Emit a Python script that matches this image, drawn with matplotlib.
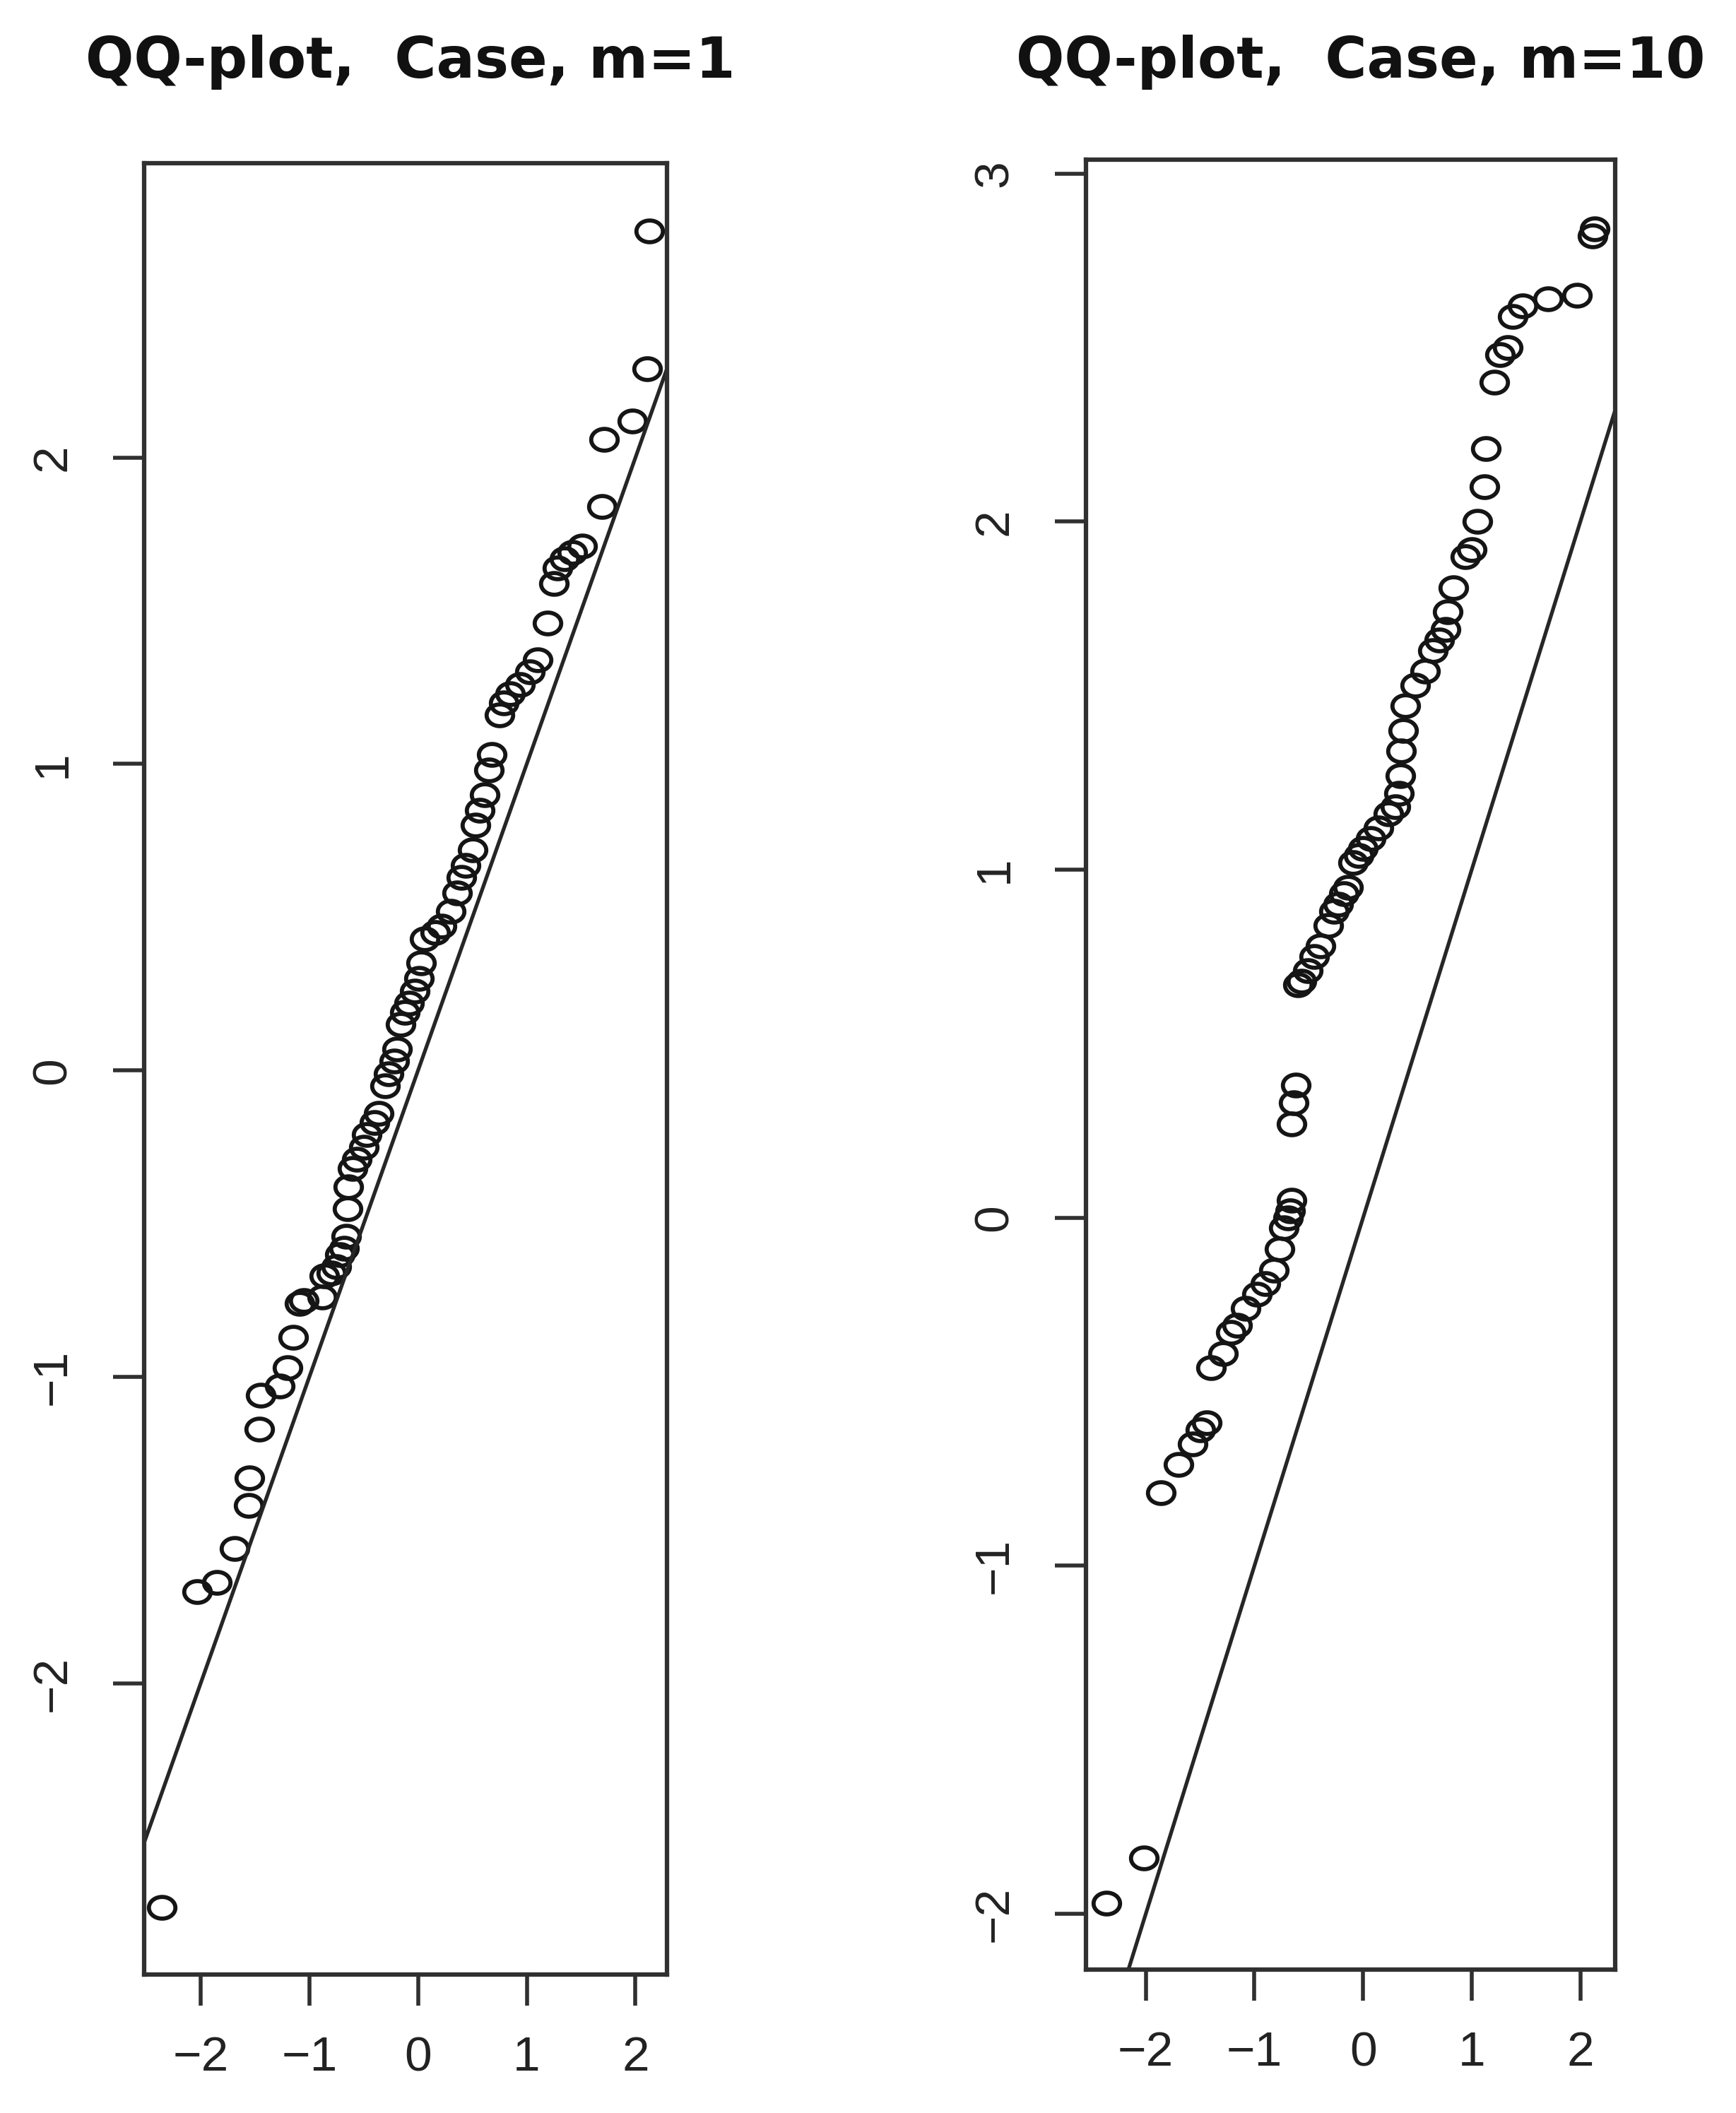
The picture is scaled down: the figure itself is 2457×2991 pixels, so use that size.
import numpy as np
import matplotlib
matplotlib.use("Agg")
import matplotlib.pyplot as plt
from matplotlib.path import Path

plt.rcParams['font.family'] = ['Liberation Sans', 'DejaVu Sans']

# QQ data, left panel (m=1): theoretical quantile, sample quantile
x_m1 = [-2.36, -2.03, -1.85, -1.69, -1.56, -1.55, -1.46, -1.45, -1.27, -1.20,
        -1.15, -1.09, -1.05, -0.88, -0.86, -0.80, -0.75, -0.72, -0.68, -0.66,
        -0.65, -0.64, -0.60, -0.56, -0.50, -0.47, -0.40, -0.36, -0.30, -0.27,
        -0.22, -0.19, -0.16, -0.12, -0.08, -0.03, 0.01, 0.03, 0.06, 0.16,
        0.22, 0.30, 0.36, 0.40, 0.44, 0.50, 0.53, 0.57, 0.61, 0.65,
        0.68, 0.75, 0.79, 0.85, 0.94, 1.03, 1.10, 1.19, 1.25, 1.28,
        1.35, 1.42, 1.51, 1.69, 1.71, 1.97, 2.11, 2.13]
y_m1 = [-2.73, -1.70, -1.67, -1.56, -1.42, -1.33, -1.17, -1.06, -1.03, -0.97,
        -0.87, -0.76, -0.75, -0.74, -0.67, -0.66, -0.64, -0.60, -0.58, -0.54,
        -0.45, -0.38, -0.32, -0.29, -0.25, -0.21, -0.17, -0.14, -0.05, -0.01,
        0.03, 0.07, 0.15, 0.19, 0.22, 0.26, 0.30, 0.35, 0.43, 0.45,
        0.47, 0.52, 0.58, 0.63, 0.67, 0.72, 0.80, 0.85, 0.90, 0.98,
        1.03, 1.16, 1.20, 1.23, 1.26, 1.30, 1.34, 1.46, 1.59, 1.64,
        1.67, 1.69, 1.71, 1.84, 2.06, 2.12, 2.29, 2.74]

# right panel (m=10)
x_m10 = [-2.36, -2.02, -1.86, -1.70, -1.57, -1.50, -1.44, -1.40, -1.29, -1.22,
         -1.16, -1.08, -0.98, -0.90, -0.82, -0.77, -0.73, -0.69, -0.67, -0.66,
         -0.66, -0.64, -0.62, -0.60, -0.57, -0.51, -0.45, -0.39, -0.32, -0.27,
         -0.23, -0.18, -0.14, -0.09, -0.04, 0.00, 0.07, 0.14, 0.23, 0.30,
         0.33, 0.34, 0.35, 0.37, 0.39, 0.48, 0.57, 0.64, 0.70, 0.76,
         0.78, 0.83, 0.94, 1.00, 1.05, 1.12, 1.13, 1.21, 1.26, 1.33,
         1.38, 1.47, 1.70, 1.97, 2.11, 2.13]
y_m10 = [-1.97, -1.84, -0.79, -0.71, -0.65, -0.61, -0.59, -0.43, -0.39, -0.33,
         -0.31, -0.26, -0.22, -0.19, -0.15, -0.09, -0.03, 0.00, 0.02, 0.05,
         0.27, 0.33, 0.38, 0.67, 0.68, 0.71, 0.75, 0.78, 0.84, 0.88,
         0.90, 0.93, 0.95, 1.02, 1.04, 1.06, 1.09, 1.12, 1.16, 1.18,
         1.22, 1.27, 1.34, 1.40, 1.47, 1.53, 1.57, 1.63, 1.66, 1.69,
         1.74, 1.81, 1.90, 1.92, 2.00, 2.10, 2.21, 2.40, 2.48, 2.50,
         2.59, 2.62, 2.64, 2.65, 2.82, 2.84]

titles = ['QQ-plot,  Case, m=1', 'QQ-plot,  Case, m=10']
x_ticks = [-2, -1, 0, 1, 2]
y_ticks_m1 = [-2, -1, 0, 1, 2]
y_ticks_m10 = [-2, -1, 0, 1, 2, 3]

# the source image is a bit stretched sideways, so the circles are slightly oval
t = np.linspace(0, 2 * np.pi, 60)
oval = Path(np.column_stack([1.22 * np.cos(t), np.sin(t)]), closed=True)

fig = plt.figure(figsize=(24.57, 29.91), dpi=100)
ax1 = fig.add_axes([0.0830, 0.0655, 0.3012, 0.8572])
ax2 = fig.add_axes([0.6256, 0.0679, 0.3048, 0.8566])

panels = [
    (ax1, x_m1, y_m1, y_ticks_m1, (-2.52, 2.29), (-2.95, 2.96), 0.2365),
    (ax2, x_m10, y_m10, y_ticks_m10, (-2.55, 2.32), (-2.16, 3.04), 0.7838),
]

for (ax, xs, ys, yt, xl, yl, tx), title in zip(panels, titles):
    ax.plot(xs, ys, linestyle='none', marker=oval, ms=27, mfc='none',
            mec='#151515', mew=4.2)
    # reference line y = x
    ax.axline((0, 0), slope=1, color='#262626', lw=3.8)
    ax.set_xlim(*xl)
    ax.set_ylim(*yl)
    ax.set_xticks(x_ticks)
    ax.set_yticks(yt)
    for s in ax.spines.values():
        s.set_color('#303030')
        s.set_linewidth(4.5)
    ax.tick_params(direction='out', length=32, width=4, color='#303030',
                   labelsize=50, labelcolor='#222222')
    ax.tick_params(axis='x', pad=30)
    ax.tick_params(axis='y', pad=38, labelrotation=90)
    for lab in ax.get_yticklabels():
        lab.set_va('center')
    fig.text(tx, 0.9632, title, ha='center', va='baseline', fontsize=58,
             fontweight='bold', family='DejaVu Sans', color='#111111')

fig.savefig('out.png', dpi=100)
